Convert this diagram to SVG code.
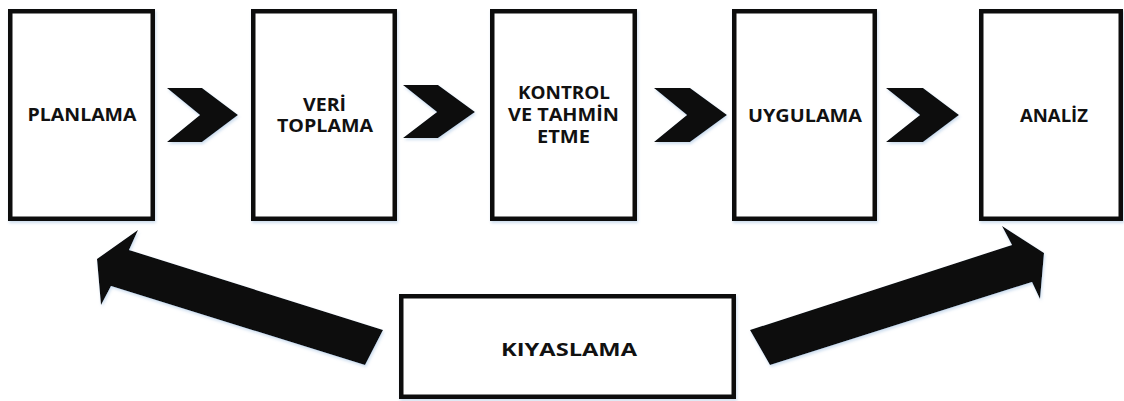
<svg xmlns="http://www.w3.org/2000/svg" width="1124" height="401" viewBox="0 0 1124 401">
  <defs>
    <filter id="soft" x="-10%" y="-10%" width="120%" height="125%">
      <feDropShadow dx="1" dy="2" stdDeviation="1.5" flood-color="#8fb3d9" flood-opacity="0.45"/>
    </filter>
  </defs>
  <style>
    .box { fill: #ffffff; stroke: #0d0d0d; stroke-width: 4.5; filter: url(#soft); }
    .lbl { font-family: "Open Sans", "DejaVu Sans", sans-serif; font-weight: 700; font-size: 17px; fill: #111111; text-anchor: middle; }
    .flow { fill: #0d0d0d; filter: url(#soft); }
  </style>
  <rect width="1124" height="401" fill="#ffffff"/>

  <!-- connectors: chevrons between stages and the two feedback arrows -->
  <g id="connectors">
    <polygon class="flow" points="167,88 202,88 238,115 202,142 167,142 200,115"/>
    <polygon class="flow" points="403,85 438,85 475,112 438,138 403,138 437,112"/>
    <polygon class="flow" points="654,88 690,88 727,115 690,142 654,142 687,115"/>
    <polygon class="flow" points="886,88 923,88 959,115 923,142 886,142 920,115"/>
    <polygon class="flow" points="138,230 97,259 101,305 111,286 365,365 383,330 129,250"/>
    <polygon class="flow" points="750,330 1012,245 1002,226 1044,253 1040,299 1032,282 770,365"/>
  </g>

  <g id="planlama">
    <rect class="box" x="10.25" y="11.25" width="142.5" height="207.5"/>
    <text class="lbl" x="82" y="121" textLength="109" lengthAdjust="spacingAndGlyphs">PLANLAMA</text>
  </g>

  <g id="veri-toplama">
    <rect class="box" x="253.25" y="11.25" width="141.5" height="207.5"/>
    <text class="lbl" x="324.5" y="111" textLength="43" lengthAdjust="spacingAndGlyphs">VERİ</text>
    <text class="lbl" x="325" y="132" textLength="96" lengthAdjust="spacingAndGlyphs">TOPLAMA</text>
  </g>

  <g id="kontrol-tahmin">
    <rect class="box" x="492.25" y="11.25" width="142.5" height="207.5"/>
    <text class="lbl" x="564" y="99" textLength="92" lengthAdjust="spacingAndGlyphs">KONTROL</text>
    <text class="lbl" x="563.5" y="121" textLength="111" lengthAdjust="spacingAndGlyphs">VE TAHMİN</text>
    <text class="lbl" x="563.5" y="143" textLength="53" lengthAdjust="spacingAndGlyphs">ETME</text>
  </g>

  <g id="uygulama">
    <rect class="box" x="734.25" y="11.25" width="140.5" height="207.5"/>
    <text class="lbl" x="805" y="122" textLength="114" lengthAdjust="spacingAndGlyphs">UYGULAMA</text>
  </g>

  <g id="analiz">
    <rect class="box" x="981.25" y="11.25" width="139.5" height="207.5"/>
    <text class="lbl" x="1054" y="122" textLength="68" lengthAdjust="spacingAndGlyphs">ANALİZ</text>
  </g>

  <g id="kiyaslama">
    <rect class="box" x="401.25" y="296.25" width="332.5" height="100.5"/>
    <text class="lbl" x="569" y="356" textLength="136" lengthAdjust="spacingAndGlyphs">KIYASLAMA</text>
  </g>
</svg>
